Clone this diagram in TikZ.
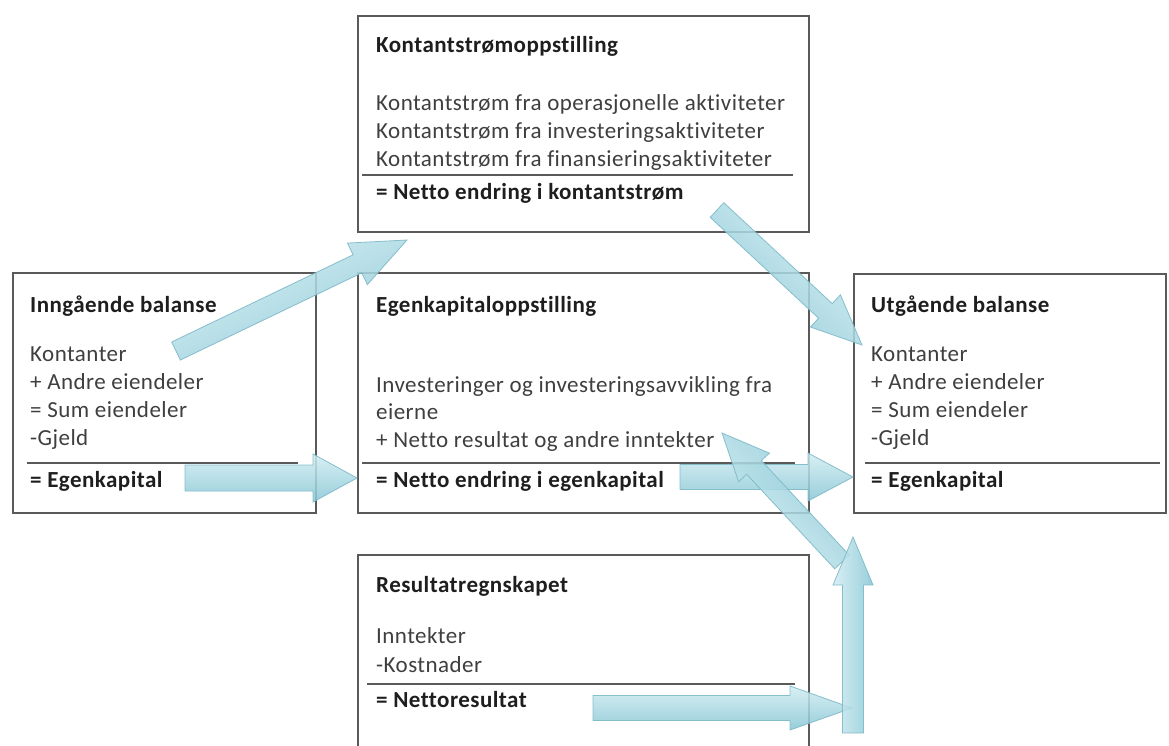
\documentclass[tikz,border=0pt]{standalone}
\usepackage{fontspec}
\setmainfont{Carlito}[LetterSpace=2, Ligatures=NoCommon]
\usetikzlibrary{calc}
\definecolor{boxline}{HTML}{5A5A5A}
\definecolor{txt}{HTML}{3F3F3F}
\definecolor{ttl}{HTML}{1E1E1E}
\definecolor{arrtop}{HTML}{D2EDF2}
\definecolor{arrbot}{HTML}{86C6D5}
\definecolor{arredge}{HTML}{7DB9C8}
\newcommand\fsz{\fontsize{23}{28}\selectfont}
\tikzset{
  panel/.style={draw=boxline, line width=2pt, anchor=north west, inner sep=0pt},
  sep/.style={draw=boxline, line width=2pt},
  ttlt/.style={anchor=base west, inner sep=0pt, text=ttl, font=\fsz\bfseries},
  bodyt/.style={anchor=base west, inner sep=0pt, text=txt, font=\fsz},
  sumt/.style={anchor=base west, inner sep=0pt, text=ttl, font=\fsz\bfseries},
  blk/.style={draw=arredge, line width=0.8pt, top color=arrtop, bottom color=arrbot, fill opacity=0.85, draw opacity=0.9},
}
\newcommand\blkarrow[5]{%
  \coordinate (ba-b) at ($(#2)!#5!(#1)$);
  \pgfmathanglebetweenpoints{\pgfpointanchor{#1}{center}}{\pgfpointanchor{#2}{center}}%
  \let\arrang\pgfmathresult
  \path[blk, shading angle=\arrang] ($(#1)!#3!90:(#2)$) -- ($(ba-b)!#3!90:(#2)$) -- ($(ba-b)!#4!90:(#2)$) -- (#2) -- ($(ba-b)!#4!-90:(#2)$) -- ($(ba-b)!#3!-90:(#2)$) -- ($(#1)!#3!-90:(#2)$) -- cycle;
}
\begin{document}
\begin{tikzpicture}[x=1pt, y=-1pt]
\useasboundingbox (0,0) rectangle (1169,745);
\clip (0,0) rectangle (1169,745);
\fill[white] (0,0) rectangle (1169,745);

% boxes
\node[panel, minimum width=451pt, minimum height=216pt] (kbox) at (357,15) {};
\node[panel, minimum width=303pt, minimum height=240pt] (ibox) at (12,272) {};
\node[panel, minimum width=451pt, minimum height=240pt] (ebox) at (357,272) {};
\node[panel, minimum width=312pt, minimum height=239pt] (ubox) at (853,273) {};
\node[panel, minimum width=451pt, minimum height=220pt] (rbox) at (357,554) {};

% separators
\coordinate (ks1) at (362,175); \coordinate (ks2) at (793,175);
\coordinate (is1) at (27,463);  \coordinate (is2) at (298,463);
\coordinate (es1) at (362,463); \coordinate (es2) at (795,463);
\coordinate (us1) at (865,463); \coordinate (us2) at (1160,463);
\coordinate (rs1) at (367,684); \coordinate (rs2) at (795,684);
\draw[sep] (ks1) -- (ks2);
\draw[sep] (is1) -- (is2);
\draw[sep] (es1) -- (es2);
\draw[sep] (us1) -- (us2);
\draw[sep] (rs1) -- (rs2);

% Kontantstrømoppstilling
\node[ttlt] (kt) at (376,52) {Kontantstrømoppstilling};
\node[bodyt] (k1) at (376,110) {Kontantstrøm fra operasjonelle aktiviteter};
\node[bodyt] (k2) at (376,138) {Kontantstrøm fra investeringsaktiviteter};
\node[bodyt] (k3) at (376,166) {Kontantstrøm fra finansieringsaktiviteter};
\node[sumt] (k4) at (376,199) {= Netto endring i kontantstrøm};

% Inngående balanse
\node[ttlt] (it) at (30,312) {Inngående balanse};
\node[bodyt] (i1) at (30,361) {Kontanter};
\node[bodyt] (i2) at (30,389) {+ Andre eiendeler};
\node[bodyt] (i3) at (30,417) {= Sum eiendeler};
\node[bodyt] (i4) at (30,445) {-Gjeld};
\node[sumt] (i5) at (30,487) {= Egenkapital};

% Egenkapitaloppstilling
\node[ttlt] (et) at (376,312) {Egenkapitaloppstilling};
\node[bodyt] (e1) at (376,392) {Investeringer og investeringsavvikling fra};
\node[bodyt] (e2) at (376,419) {eierne};
\node[bodyt] (e3) at (376,447) {+ Netto resultat og andre inntekter};
\node[sumt] (e4) at (376,487) {= Netto endring i egenkapital};

% Utgående balanse
\node[ttlt] (ut) at (871,312) {Utgående balanse};
\node[bodyt] (u1) at (871,361) {Kontanter};
\node[bodyt] (u2) at (871,389) {+ Andre eiendeler};
\node[bodyt] (u3) at (871,417) {= Sum eiendeler};
\node[bodyt] (u4) at (871,445) {-Gjeld};
\node[sumt] (u5) at (871,487) {= Egenkapital};

% Resultatregnskapet
\node[ttlt] (rt) at (376,592) {Resultatregnskapet};
\node[bodyt] (r1) at (376,643) {Inntekter};
\node[bodyt] (r2) at (376,672) {-Kostnader};
\node[sumt] (r3) at (376,707) {= Nettoresultat};

% arrow end points
\coordinate (t1) at (176,351); \coordinate (h1) at (407,240);
\coordinate (t2) at (185,478); \coordinate (h2) at (357,478);
\coordinate (t3) at (680,477); \coordinate (h3) at (853,477);
\coordinate (t4) at (717,210); \coordinate (h4) at (862,345);
\coordinate (t7) at (842,562); \coordinate (h7) at (722,433);
\coordinate (t5) at (593,708); \coordinate (h5) at (852,708);
\coordinate (t6) at (853,733); \coordinate (h6) at (853,537);

\blkarrow{t1}{h1}{10pt}{23pt}{55pt}
\blkarrow{t2}{h2}{13pt}{24pt}{44pt}
\blkarrow{t3}{h3}{12.5pt}{24pt}{45pt}
\blkarrow{t4}{h4}{10pt}{22pt}{50pt}
\blkarrow{t7}{h7}{10pt}{21pt}{47pt}
\blkarrow{t5}{h5}{12.5pt}{22pt}{62pt}
\blkarrow{t6}{h6}{10.5pt}{20pt}{48pt}
\end{tikzpicture}
\end{document}
